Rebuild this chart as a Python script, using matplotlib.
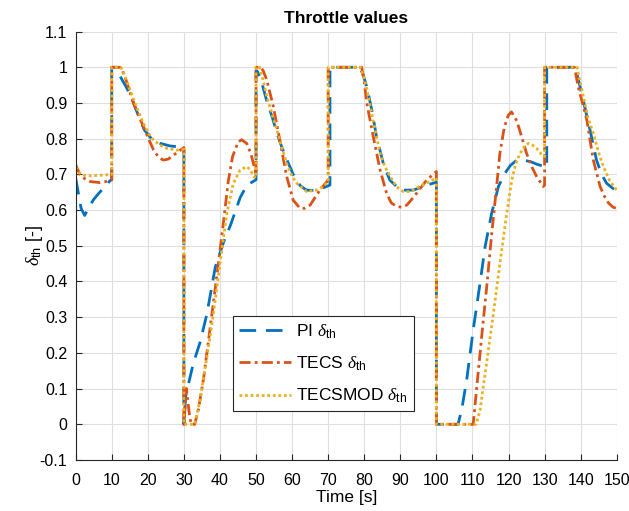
import matplotlib
matplotlib.use('Agg')
import matplotlib.pyplot as plt

plt.rcParams['font.family'] = ['Liberation Sans', 'DejaVu Sans']
plt.rcParams['mathtext.fontset'] = 'custom'
plt.rcParams['mathtext.rm'] = 'Liberation Sans'
plt.rcParams['mathtext.it'] = 'Liberation Serif:italic'

# PI controller throttle
pi_t = [0, 0.7, 1.5, 2.5, 3.5, 5, 6.5, 8, 9.5, 10,
        10, 11.2, 12.3, 14, 15.5, 17, 19, 21, 23.4, 26, 30,
        30, 30.5, 32.6, 34.5, 36.4, 38.7, 41, 43, 45.6, 47.5, 50,
        50, 50.3, 51.5, 53, 54.5, 55.8, 57.2, 58.6, 60.3, 62.3, 64, 66, 68, 70.5,
        70.5, 78.5, 79.5, 80.7, 82.1, 83.4, 85.3, 87.1, 90, 93.6, 97.3, 100,
        100, 106, 107, 108.4, 110.2, 112.1, 113.5, 115.3, 117.2, 119, 120.5, 122.3, 124, 126, 128, 130.6,
        130.6, 138.5, 139.5, 140.7, 142.6, 144.4, 145.8, 147.2, 150]
pi_v = [0.69, 0.65, 0.605, 0.585, 0.605, 0.63, 0.648, 0.665, 0.682, 0.685,
        1.0, 1.0, 0.975, 0.945, 0.915, 0.875, 0.825, 0.8, 0.787, 0.78, 0.775,
        0.0, 0.08, 0.17, 0.23, 0.31, 0.44, 0.51, 0.56, 0.635, 0.67, 0.685,
        0.99, 0.99, 0.96, 0.905, 0.86, 0.815, 0.775, 0.74, 0.7, 0.668, 0.656, 0.655, 0.66, 0.67,
        1.0, 1.0, 0.985, 0.946, 0.88, 0.806, 0.73, 0.684, 0.656, 0.656, 0.67, 0.678,
        0.0, 0.0, 0.04, 0.124, 0.264, 0.395, 0.497, 0.59, 0.666, 0.703, 0.725, 0.74, 0.74, 0.736, 0.728, 0.72,
        1.0, 1.0, 0.96, 0.908, 0.824, 0.74, 0.7, 0.675, 0.652]

# TECS throttle
tecs_t = [0, 1.2, 2.5, 4, 6.7, 8.5, 10,
          10, 12.3, 13, 14.1, 16, 17.4, 18.8, 20.2, 21.6, 23, 24.3, 25.7, 27.1, 28.5, 30,
          30, 30.7, 31.5, 32, 33, 34, 35.4, 37.2, 39.1, 40.9, 42.3, 43.5, 45, 46, 47.4, 48.5, 49.3, 50,
          50, 51.3, 52, 53, 54.8, 56.6, 58.5, 60.3, 62.2, 63.5, 65, 67.7, 70,
          70, 79.3, 80, 80.7, 82.5, 84.4, 86.2, 87.5, 89, 90.5, 91.8, 93, 94.5, 97.3, 100,
          100, 110.2, 112.6, 114, 115.3, 116.7, 117.6, 118.8, 119.9, 120.8, 122.3, 123.5, 125, 126.5, 127.8, 129.6, 130,
          130, 138.3, 139.3, 140.5, 141.7, 143.5, 145.4, 146.5, 147.7, 149, 150]
tecs_v = [0.727, 0.699, 0.688, 0.68, 0.677, 0.68, 0.685,
          1.0, 1.0, 0.99, 0.96, 0.9, 0.865, 0.834, 0.8, 0.768, 0.748, 0.74, 0.743, 0.754, 0.764, 0.775,
          0.0, 0.1, 0.03, 0.0, 0.0, 0.04, 0.124, 0.264, 0.413, 0.56, 0.68, 0.75, 0.79, 0.797, 0.787, 0.76, 0.73, 0.7,
          1.0, 1.0, 0.99, 0.964, 0.89, 0.796, 0.694, 0.628, 0.605, 0.605, 0.614, 0.656, 0.684,
          1.0, 1.0, 0.96, 0.9, 0.806, 0.712, 0.647, 0.62, 0.61, 0.608, 0.614, 0.628, 0.647, 0.684, 0.708,
          0.0, 0.0, 0.25, 0.39, 0.53, 0.666, 0.759, 0.83, 0.865, 0.875, 0.85, 0.81, 0.759, 0.72, 0.694, 0.666, 0.67,
          1.0, 1.0, 0.946, 0.9, 0.853, 0.74, 0.666, 0.64, 0.62, 0.608, 0.605]

# TECSMOD throttle
mod_t = [0, 1, 2.1, 4, 5.8, 8, 10,
         10, 12.5, 13.5, 15.1, 17, 18.8, 20.2, 21.6, 23.4, 25.2, 28, 30,
         30, 33, 34.5, 36.4, 38.2, 40, 41.9, 43.7, 45.6, 47.4, 48.5, 49.3, 50,
         50, 51, 51.8, 53, 54.4, 55.8, 57.2, 58.5, 60, 61.3, 64, 66.8, 68.5, 70,
         70, 79, 79.8, 80.7, 82.5, 84.4, 85.8, 87.2, 89, 90.8, 92.5, 94.5, 96.5, 98.2, 100,
         100, 111, 112.1, 113.9, 115.8, 117.6, 119.5, 120.9, 122, 123.2, 124.5, 125.5, 126.5, 127.8, 129.6, 130,
         130, 139, 139.8, 140.7, 142, 143.5, 145, 146.3, 148, 150]
mod_v = [0.72, 0.705, 0.698, 0.696, 0.697, 0.698, 0.7,
         1.0, 1.0, 0.98, 0.936, 0.885, 0.843, 0.815, 0.796, 0.782, 0.773, 0.768, 0.77,
         0.0, 0.0, 0.07, 0.19, 0.31, 0.45, 0.59, 0.675, 0.712, 0.722, 0.712, 0.694, 0.69,
         1.0, 1.0, 0.97, 0.918, 0.87, 0.824, 0.775, 0.73, 0.695, 0.675, 0.652, 0.656, 0.665, 0.68,
         1.0, 1.0, 0.975, 0.94, 0.85, 0.759, 0.72, 0.694, 0.665, 0.652, 0.652, 0.661, 0.672, 0.68, 0.69,
         0.0, 0.0, 0.04, 0.17, 0.31, 0.45, 0.59, 0.684, 0.73, 0.759, 0.78, 0.787, 0.783, 0.773, 0.75, 0.75,
         1.0, 1.0, 0.96, 0.92, 0.86, 0.815, 0.76, 0.722, 0.683, 0.656]

labels = [r'PI $\delta_{\mathrm{th}}$', r'TECS $\delta_{\mathrm{th}}$', r'TECSMOD $\delta_{\mathrm{th}}$']

fig = plt.figure(figsize=(6.29, 5.11), dpi=100)
ax = fig.add_axes([0.1203, 0.0998, 0.8602, 0.8384])

ax.plot(pi_t, pi_v, color='#0072BD', lw=2.0, linestyle=(0, (6, 3.5)), label=labels[0])
ax.plot(tecs_t, tecs_v, color='#D95319', lw=2.0, linestyle=(0, (4, 1.5, 1, 1.5)), label=labels[1])
ax.plot(mod_t, mod_v, color='#EDB120', lw=2.0, linestyle=(0, (1, 1)), label=labels[2])

ax.set_xlim(0, 150)
ax.set_ylim(-0.1, 1.1)
ax.set_xticks(range(0, 151, 10))
ax.set_yticks([-0.1, 0, 0.1, 0.2, 0.3, 0.4, 0.5, 0.6, 0.7, 0.8, 0.9, 1, 1.1])
ax.set_yticklabels(['-0.1', '0', '0.1', '0.2', '0.3', '0.4', '0.5', '0.6', '0.7', '0.8', '0.9', '1', '1.1'])
ax.grid(True, color='#DFDFDF', lw=0.8)
ax.set_axisbelow(True)
for s in ['top', 'right']:
    ax.spines[s].set_visible(False)
for s in ['left', 'bottom']:
    ax.spines[s].set_color('#262626')
    ax.spines[s].set_linewidth(0.8)
ax.tick_params(direction='in', length=4, labelsize=11.5, colors='#262626', labelcolor='black')
ax.tick_params(axis='x', pad=9)
ax.tick_params(axis='y', pad=6)

ax.set_title('Throttle values', fontsize=12.5, fontweight='bold', pad=6)
ax.set_xlabel('Time [s]', fontsize=12.5, labelpad=2)
ax.set_ylabel(r'$\delta_{\mathrm{th}}$ [-]', fontsize=13, labelpad=-4)

leg = ax.legend(loc='upper left', bbox_to_anchor=(0.291, 0.336), borderaxespad=0,
                fontsize=12.5, fancybox=False, framealpha=1, edgecolor='#262626',
                handlelength=3.0, handletextpad=0.3, labelspacing=0.8, borderpad=0.35)
leg.get_frame().set_linewidth(0.8)

fig.savefig('out.png', dpi=100)
